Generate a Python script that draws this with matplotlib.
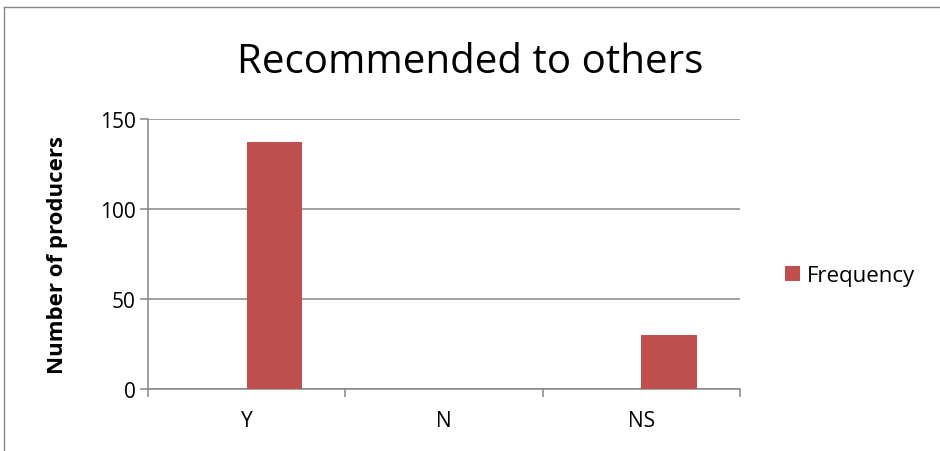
import numpy as np
import matplotlib
matplotlib.use('Agg')
import matplotlib.pyplot as plt
from matplotlib.lines import Line2D

categories = ['Y', 'N', 'NS']
frequency = [137, 0, 30]
series_name = 'Frequency'

plt.rcParams['font.family'] = ['Open Sans', 'DejaVu Sans']

fig = plt.figure(figsize=(9.4, 4.52), dpi=100)
ax = fig.add_axes([0.1574, 0.1372, 0.6298, 0.5973])

x = np.arange(len(categories))
bar_w = 0.283
ax.bar(x, frequency, width=bar_w, align='edge', color='#C0504D', label=series_name, zorder=3)

ax.set_xlim(-0.5, len(categories) - 0.5)
ax.set_ylim(0, 150)
ax.set_yticks([0, 50, 100, 150])
ax.yaxis.grid(True, color='#868686', linewidth=1.1, zorder=0)

ax.set_xticks(x)
ax.set_xticklabels(categories, fontsize=15)
ax.tick_params(axis='x', length=0, pad=15)
# category boundary tick marks
ax.set_xticks(np.arange(-0.5, len(categories), 1.0), minor=True)
ax.tick_params(axis='x', which='minor', length=6, width=1.1, color='#868686', direction='out')
ax.tick_params(axis='y', length=6, width=1.1, color='#868686', labelsize=15, pad=3)

for side in ['top', 'right']:
    ax.spines[side].set_visible(False)
for side in ['left', 'bottom']:
    ax.spines[side].set_color('#868686')
    ax.spines[side].set_linewidth(1.1)

ax.set_ylabel('Number of producers', fontsize=16, fontweight='bold')
ax.yaxis.set_label_coords(-0.135, 0.5)
fig.text(0.5, 1 - 73 / 452, 'Recommended to others', ha='center', va='baseline', fontsize=29)

ax.legend(loc='center left', bbox_to_anchor=(1.043, 0.42), frameon=False,
          fontsize=16, handlelength=0.64, handleheight=0.64, handletextpad=0.32)

# outer chart frame
fig.add_artist(Line2D([4 / 940, 1.0], [1 - 8 / 452, 1 - 8 / 452], color='#888888', linewidth=1.0,
                      transform=fig.transFigure))
fig.add_artist(Line2D([4 / 940, 4 / 940], [0, 1 - 8 / 452], color='#888888', linewidth=1.0,
                      transform=fig.transFigure))

fig.savefig('out.png', dpi=100)
